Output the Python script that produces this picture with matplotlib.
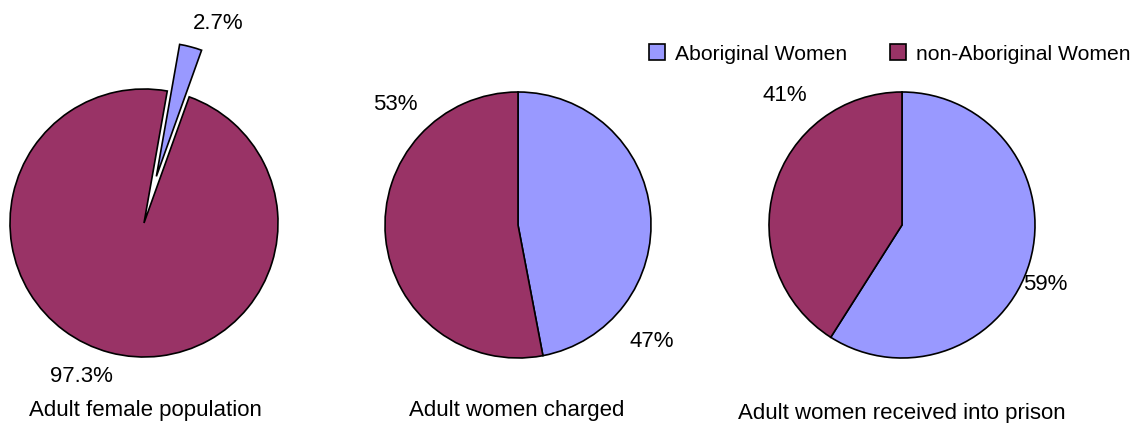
import matplotlib
matplotlib.use("Agg")
import matplotlib.pyplot as plt

plt.rcParams["font.family"] = ["Liberation Sans", "DejaVu Sans"]

series = ["Aboriginal Women", "non-Aboriginal Women"]
titles = ["Adult female population", "Adult women charged", "Adult women received into prison"]
population = [2.7, 97.3]
charged = [47, 53]
prison = [59, 41]
label_fmt = ["{:.1f}%", "{:.0f}%", "{:.0f}%"]

COLORS = ["#9999FF", "#993366"]
W, H = 1132, 423

fig = plt.figure(figsize=(W / 100, H / 100), dpi=100)
fig.patch.set_facecolor("white")

# pie centres / radii in pixels, start angle, explode (fraction of r), label offsets (px, y down)
layout = [
    dict(cx=144, cy=223, r=134, start=80, explode=[0.36, 0],
         lab=[(74, -200), (-63, 153)], title=(145, 410)),
    dict(cx=518, cy=225, r=133, start=90, explode=[0, 0],
         lab=[(134, 116), (-123, -120)], title=(517, 410)),
    dict(cx=902, cy=225, r=133, start=90, explode=[0, 0],
         lab=[(143, 60), (-117, -130)], title=(902, 413)),
]

half = 170
wedges_first = None
for values, fmt, title, lo in zip([population, charged, prison], label_fmt, titles, layout):
    ax = fig.add_axes([(lo["cx"] - half) / W, (H - lo["cy"] - half) / H, 2 * half / W, 2 * half / H])
    # matplotlib's explode is in data units, so scale by radius
    wedges, _ = ax.pie(values, colors=COLORS, startangle=lo["start"], counterclock=False,
                       radius=lo["r"], explode=[e * lo["r"] for e in lo["explode"]],
                       wedgeprops=dict(edgecolor="black", linewidth=1.2))
    ax.set_xlim(-half, half)
    ax.set_ylim(-half, half)
    ax.set_aspect("equal")
    ax.axis("off")
    if wedges_first is None:
        wedges_first = wedges
    for v, (dx, dy) in zip(values, lo["lab"]):
        ax.text(dx, -dy, fmt.format(v), fontsize=16, ha="center", va="center")
    tx, ty = lo["title"]
    fig.text(tx / W, 1 - ty / H, title, fontsize=16, ha="center", va="center")

fig.legend(wedges_first, series, loc="center left", bbox_to_anchor=(649 / W, 1 - 54 / H),
           ncol=2, frameon=False, fontsize=15.2, handlelength=0.75, handleheight=0.75,
           handletextpad=0.5, columnspacing=2.0, borderaxespad=0, borderpad=0)

fig.savefig("out.png", dpi=100, facecolor="white")
